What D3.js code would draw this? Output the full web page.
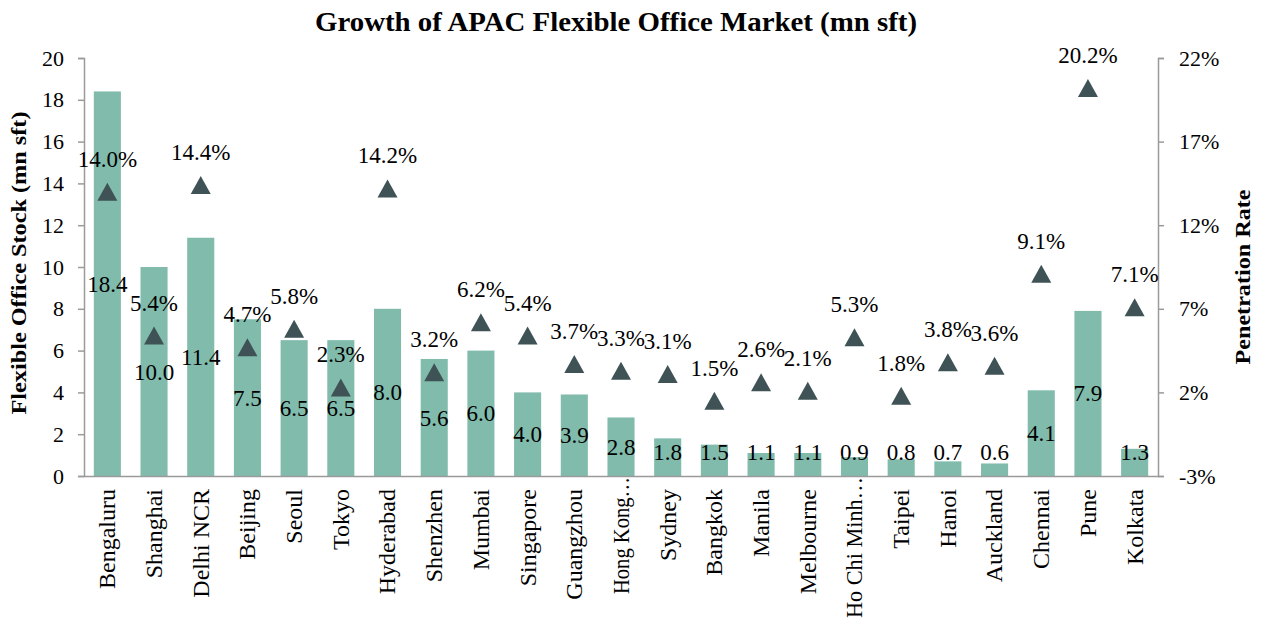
<!DOCTYPE html>
<html>
<head>
<meta charset="utf-8">
<script src="https://cdn.jsdelivr.net/npm/d3@7"></script>
<style>
  body { margin: 0; background: #fff; }
  text { font-family: "Liberation Serif", "Times New Roman", serif; fill: #000; }
</style>
</head>
<body>
<script>
// data
const cities = ['Bengaluru', 'Shanghai', 'Delhi NCR', 'Beijing', 'Seoul', 'Tokyo', 'Hyderabad', 'Shenzhen',
  'Mumbai', 'Singapore', 'Guangzhou', 'Hong Kong…', 'Sydney', 'Bangkok', 'Manila', 'Melbourne',
  'Ho Chi Minh…', 'Taipei', 'Hanoi', 'Auckland', 'Chennai', 'Pune', 'Kolkata'];
const stock = [18.4, 10.0, 11.4, 7.5, 6.5, 6.5, 8.0, 5.6, 6.0, 4.0, 3.9, 2.8, 1.8, 1.5, 1.1, 1.1, 0.9, 0.8, 0.7, 0.6, 4.1, 7.9, 1.3];
const penetration = [14.0, 5.4, 14.4, 4.7, 5.8, 2.3, 14.2, 3.2, 6.2, 5.4, 3.7, 3.3, 3.1, 1.5, 2.6, 2.1, 5.3, 1.8, 3.8, 3.6, 9.1, 20.2, 7.1];
const leftTicks = [0, 2, 4, 6, 8, 10, 12, 14, 16, 18, 20];
const rightTicks = [-3, 2, 7, 12, 17, 22];

const width = 1261;
const height = 618;
// plot area edges (window.top exists already, so other names)
const plotLeft = 84, plotRight = 1158, plotTop = 58, plotBottom = 476;

const svg = d3.select('body').append('svg').attr('width', width).attr('height', height);

const x = d3.scaleBand().domain(cities).range([plotLeft, plotRight]).paddingInner(0.42).paddingOuter(0.21);
const y = d3.scaleLinear().domain([0, 20]).range([plotBottom, plotTop]);
const y2 = d3.scaleLinear().domain([-3, 22]).range([plotBottom, plotTop]);

const barColor = '#80bbac';
const markColor = '#3f5256';
const axisColor = '#9a9a9a';

// bars
svg.selectAll('.bar')
  .data(stock)
  .enter()
  .append('rect')
  .attr('class', 'bar')
  .attr('x', (d, i) => x(cities[i]))
  .attr('y', d => y(d))
  .attr('width', x.bandwidth())
  .attr('height', d => y(0) - y(d))
  .attr('fill', barColor);

// axes
const yAxis = svg.append('g')
  .attr('transform', `translate(${plotLeft},0)`)
  .call(d3.axisLeft(y).tickValues(leftTicks).tickSize(6).tickPadding(14));
const yAxis2 = svg.append('g')
  .attr('transform', `translate(${plotRight},0)`)
  .call(d3.axisRight(y2).tickValues(rightTicks).tickSize(6).tickPadding(15).tickFormat(d => d + '%'));
const xAxis = svg.append('g')
  .attr('transform', `translate(0,${plotBottom})`)
  .call(d3.axisBottom(x).tickSize(0).tickPadding(13));

[yAxis, yAxis2, xAxis].forEach(g => {
  g.attr('font-family', null);
  g.select('.domain').attr('stroke', axisColor).attr('stroke-width', 1.5);
  g.selectAll('.tick line').attr('stroke', axisColor).attr('stroke-width', 1.5);
  g.selectAll('.tick text').attr('font-size', 22).attr('fill', '#000');
});

xAxis.selectAll('.tick text')
  .attr('font-size', 24)
  .attr('transform', 'rotate(-90)')
  .attr('text-anchor', 'end')
  .attr('x', -13)
  .attr('y', 0)
  .attr('dy', '0.33em');

// the truncated names (with …) sit right on the axis and are squeezed like excel does
xAxis.selectAll('.tick text')
  .filter(d => d.endsWith('…'))
  .attr('x', -1)
  .attr('textLength', d => d.startsWith('Hong') ? 117 : 141)
  .attr('lengthAdjust', 'spacingAndGlyphs');

// bar value labels, centred in the bar but kept above the axis
svg.selectAll('.barlabel')
  .data(stock)
  .enter()
  .append('text')
  .attr('class', 'barlabel')
  .attr('x', (d, i) => x(cities[i]) + x.bandwidth() / 2)
  .attr('y', d => Math.min((y(d) + y(0)) / 2, 452))
  .attr('dy', '0.35em')
  .attr('text-anchor', 'middle')
  .attr('font-size', 23)
  .text(d => d.toFixed(1));

// penetration markers
svg.selectAll('.mark')
  .data(penetration)
  .enter()
  .append('path')
  .attr('class', 'mark')
  .attr('d', 'M0,-9L10,9L-10,9Z')
  .attr('transform', (d, i) => `translate(${x(cities[i]) + x.bandwidth() / 2},${y2(d)})`)
  .attr('fill', markColor);

svg.selectAll('.marklabel')
  .data(penetration)
  .enter()
  .append('text')
  .attr('class', 'marklabel')
  .attr('x', (d, i) => x(cities[i]) + x.bandwidth() / 2)
  .attr('y', d => y2(d) - 33)
  .attr('dy', '0.35em')
  .attr('text-anchor', 'middle')
  .attr('font-size', 23)
  .text(d => d.toFixed(1) + '%');

// titles
svg.append('text')
  .attr('x', 616)
  .attr('y', 31)
  .attr('text-anchor', 'middle')
  .attr('font-size', 28)
  .attr('font-weight', 'bold')
  .attr('textLength', 602)
  .attr('lengthAdjust', 'spacingAndGlyphs')
  .text('Growth of APAC Flexible Office Market (mn sft)');

svg.append('text')
  .attr('transform', 'translate(18,263) rotate(-90)')
  .attr('text-anchor', 'middle')
  .attr('dy', '0.35em')
  .attr('font-size', 22)
  .attr('font-weight', 'bold')
  .attr('textLength', 303)
  .attr('lengthAdjust', 'spacingAndGlyphs')
  .text('Flexible Office Stock (mn sft)');

svg.append('text')
  .attr('transform', 'translate(1242,277) rotate(-90)')
  .attr('text-anchor', 'middle')
  .attr('dy', '0.35em')
  .attr('font-size', 22)
  .attr('font-weight', 'bold')
  .attr('textLength', 175)
  .attr('lengthAdjust', 'spacingAndGlyphs')
  .text('Penetration Rate');
</script>
</body>
</html>
